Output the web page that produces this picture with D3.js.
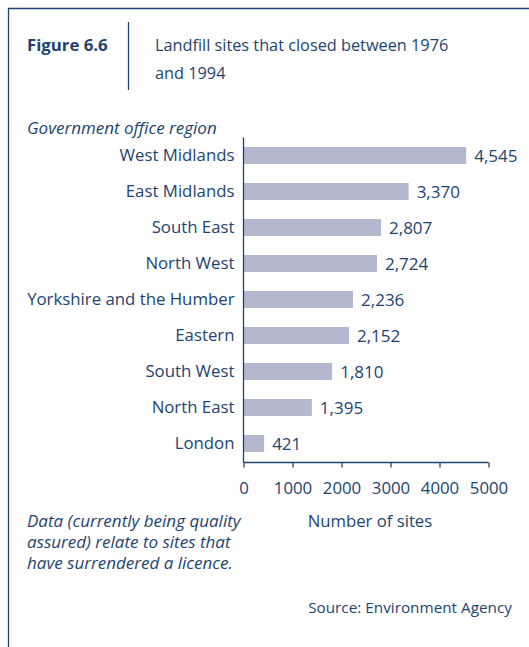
<!DOCTYPE html>
<html>
<head>
<meta charset="utf-8">
<script src="https://cdn.jsdelivr.net/npm/d3@7"></script>
<style>
  html, body { margin: 0; padding: 0; background: #fff; }
  svg { display: block; }
  text { font-family: "Open Sans", "DejaVu Sans", sans-serif; fill: #1d4471; }
</style>
</head>
<body>
<svg id="chart" width="529" height="647"></svg>
<script>
// Landfill sites closed 1976–1994 by government office region
const regions = ["West Midlands", "East Midlands", "South East", "North West",
  "Yorkshire and the Humber", "Eastern", "South West", "North East", "London"];
const sites = [4545, 3370, 2807, 2724, 2236, 2152, 1810, 1395, 421];
const xTicks = [0, 1000, 2000, 3000, 4000, 5000];

const ink = "#1d4471";
const barFill = "#b4b8cf";

const svg = d3.select("#chart");

// Frame: top rule and left rule
svg.append("line").attr("x1", 8).attr("x2", 529).attr("y1", 8.5).attr("y2", 8.5)
  .attr("stroke", ink).attr("stroke-width", 1.3);
svg.append("line").attr("x1", 8.5).attr("x2", 8.5).attr("y1", 8).attr("y2", 647)
  .attr("stroke", ink).attr("stroke-width", 1.3);

// Heading
svg.append("text").attr("x", 27).attr("y", 51).attr("font-size", 16.8)
  .attr("font-weight", "bold").text("Figure 6.6");
svg.append("line").attr("x1", 128.5).attr("x2", 128.5).attr("y1", 22).attr("y2", 90)
  .attr("stroke", ink).attr("stroke-width", 1.3);
const title = svg.append("text").attr("x", 155).attr("font-size", 16.3);
title.append("tspan").attr("x", 155).attr("y", 51).text("Landfill sites that closed between 1976");
title.append("tspan").attr("x", 155).attr("y", 79).text("and 1994");

svg.append("text").attr("x", 27).attr("y", 134).attr("font-size", 17)
  .attr("font-style", "italic").text("Government office region");

// Scales
const x = d3.scaleLinear().domain([0, 5000]).range([243.5, 488.5]);
const y = d3.scaleBand().domain(regions).range([137.5, 461.5]).paddingInner(0.53).paddingOuter(0.265);

// Bars
svg.append("g").selectAll("rect").data(regions).join("rect")
  .attr("x", x(0))
  .attr("y", d => y(d))
  .attr("width", (d, i) => x(sites[i]) - x(0))
  .attr("height", y.bandwidth())
  .attr("fill", barFill);

// Value labels
const fmt = d3.format(",");
svg.append("g").selectAll("text").data(regions).join("text")
  .attr("x", (d, i) => x(sites[i]) + 8)
  .attr("y", d => y(d) + y.bandwidth() / 2)
  .attr("dy", "0.36em")
  .attr("font-size", 17)
  .text((d, i) => fmt(sites[i]));

// Category axis
const yAxis = svg.append("g").attr("transform", `translate(${x(0)},0)`)
  .call(d3.axisLeft(y).tickSize(0).tickPadding(9));
yAxis.select(".domain").attr("stroke", ink).attr("stroke-width", 1.3)
  .attr("d", `M0,137.5V462`);
yAxis.selectAll("text").attr("font-size", 16.8).attr("fill", ink)
  .attr("font-family", '"Open Sans", sans-serif');

// Value axis
const xAxis = svg.append("g").attr("transform", "translate(0,462.5)")
  .call(d3.axisBottom(x).tickValues(xTicks).tickFormat(d3.format("d")).tickSize(5).tickPadding(15));
xAxis.select(".domain").attr("stroke", ink).attr("stroke-width", 1.3).attr("d", `M${x(0)},0H${x(5000)}`);
xAxis.selectAll(".tick line").attr("stroke", ink).attr("stroke-width", 1.3);
xAxis.selectAll("text").attr("font-size", 16.8).attr("fill", ink)
  .attr("font-family", '"Open Sans", sans-serif');

svg.append("text").attr("x", 370).attr("y", 527).attr("text-anchor", "middle")
  .attr("font-size", 16.7).text("Number of sites");

// Note
const note = svg.append("text").attr("x", 27).attr("font-size", 17).attr("font-style", "italic");
["Data (currently being quality", "assured) relate to sites that", "have surrendered a licence."]
  .forEach((s, i) => note.append("tspan").attr("x", 27).attr("y", 527 + i * 21).text(s));

svg.append("text").attr("x", 512).attr("y", 613).attr("text-anchor", "end")
  .attr("font-size", 15.3).text("Source: Environment Agency");
</script>
</body>
</html>
